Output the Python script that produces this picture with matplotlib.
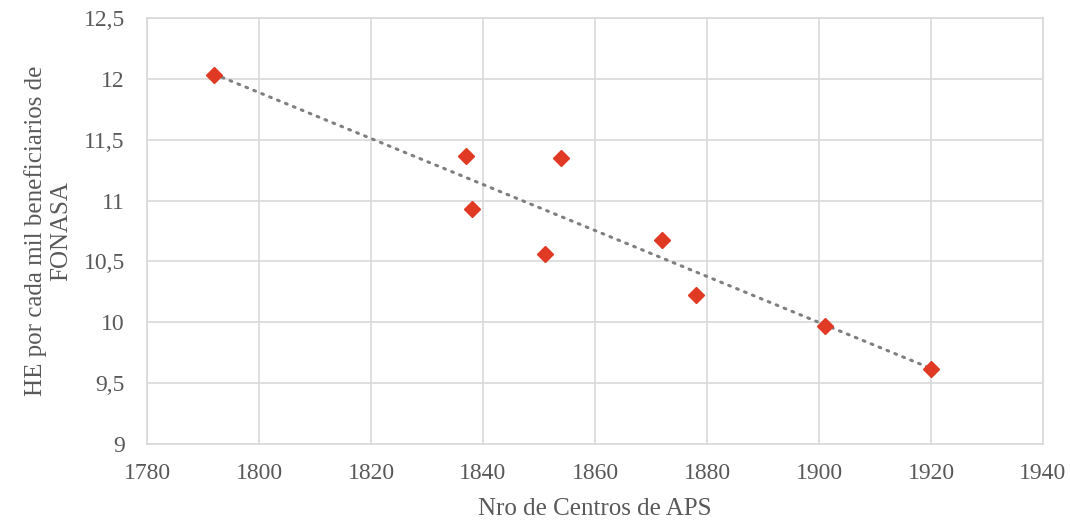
import matplotlib
matplotlib.use("Agg")
import matplotlib.pyplot as plt
from matplotlib.ticker import FuncFormatter, MultipleLocator
import numpy as np

# data
centros = [1792, 1837, 1838, 1851, 1854, 1872, 1878, 1901, 1920]
he_por_mil = [12.03, 11.37, 10.93, 10.56, 11.35, 10.68, 10.22, 9.97, 9.62]

plt.rcParams['font.family'] = ['Liberation Serif', 'DejaVu Serif']

fig = plt.figure(figsize=(10.7, 5.2), dpi=100)
ax = fig.add_axes([0.1374, 0.1462, 0.8374, 0.8192])

# linear trend line (dotted)
x = np.array(centros, dtype=float)
y = np.array(he_por_mil)
m, b = np.polyfit(x, y, 1)
xs = np.array([x.min(), x.max()])
ax.plot(xs, m*xs + b, linestyle=(0, (0.6, 2.2)), color='#7f7f7f',
        linewidth=2.2, dash_capstyle='round', zorder=2)

ax.plot(centros, he_por_mil, linestyle='none', marker='D', markersize=8,
        color='#e03a24', zorder=3)

ax.set_xlim(1780, 1940)
ax.set_ylim(9, 12.5)
ax.xaxis.set_major_locator(MultipleLocator(20))
ax.yaxis.set_major_locator(MultipleLocator(0.5))
ax.yaxis.set_major_formatter(FuncFormatter(lambda v, p: f"{v:g}".replace('.', ',')))

ax.grid(True, color='#d9d9d9', linewidth=1.2)
ax.set_axisbelow(True)
for s in ax.spines.values():
    s.set_color('#d9d9d9')
    s.set_linewidth(1.2)
ax.tick_params(length=0, labelsize=17, colors='#595959')
ax.tick_params(axis='y', pad=16)
ax.tick_params(axis='x', pad=14)

ax.set_xlabel('Nro de Centros de APS', fontsize=18, color='#595959', labelpad=10)
ax.set_ylabel('HE por cada mil beneficiarios de\nFONASA', fontsize=18,
              color='#595959', labelpad=8, linespacing=1.2)

fig.savefig('out.png', dpi=100)
